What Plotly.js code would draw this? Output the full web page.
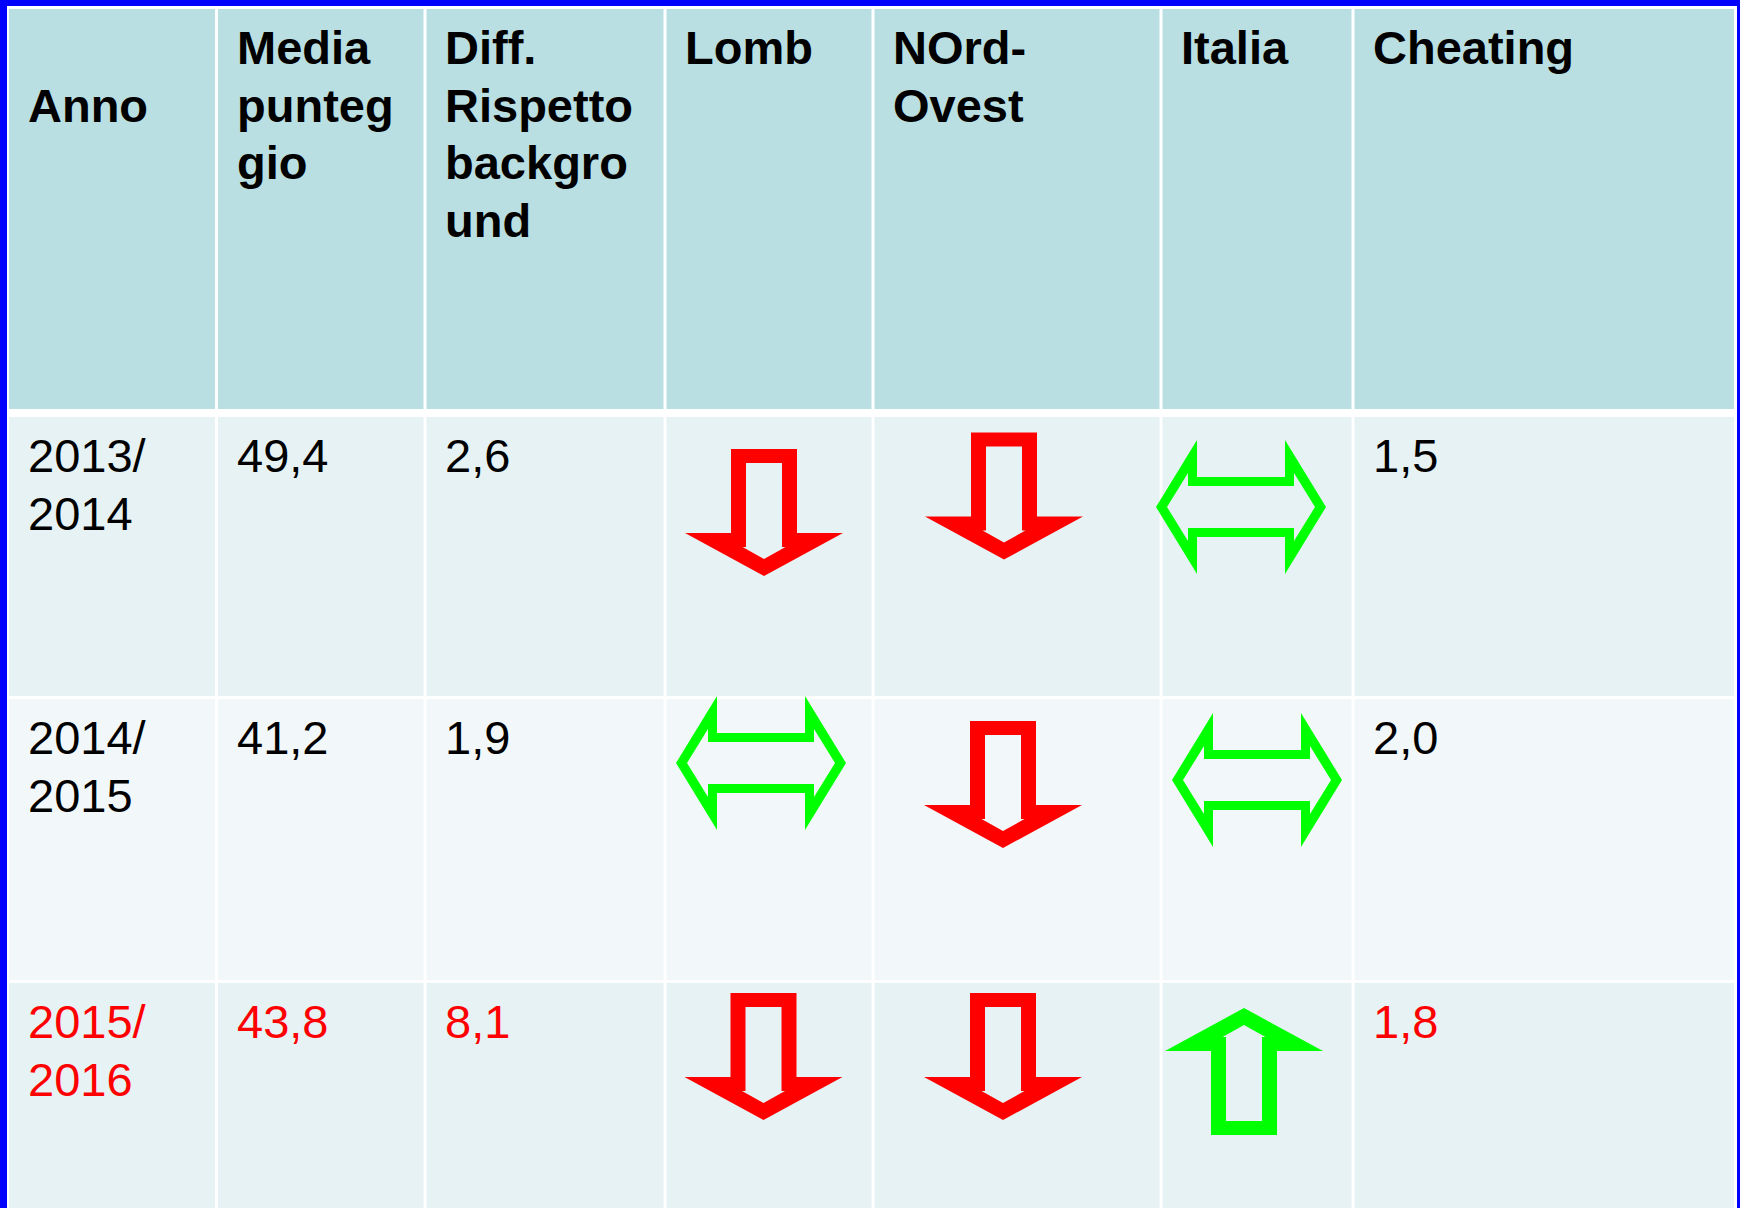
<!DOCTYPE html>
<html>
<head>
<meta charset="utf-8">
<script src="https://cdn.plot.ly/plotly-3.0.1.min.js"></script>
<style>html,body{margin:0;padding:0;background:#fff;}#chart{width:1740px;height:1208px;}</style>
</head>
<body>
<div id="chart"></div>
<script>
// ---------------- DATA ----------------
const headers = [
  ["", "Anno"],
  ["Media", "punteg", "gio"],
  ["Diff.", "Rispetto", "backgro", "und"],
  ["Lomb"],
  ["NOrd-", "Ovest"],
  ["Italia"],
  ["Cheating"]
];
const anni = ["2013/2014", "2014/2015", "2015/2016"];
const mediaPunteggio = [49.4, 41.2, 43.8];
const diffBackground = [2.6, 1.9, 8.1];
const trendLomb = ["down", "same", "down"];
const trendNordOvest = ["down", "down", "down"];
const trendItalia = ["same", "same", "up"];
const cheating = [1.5, 2.0, 1.8];

// ---------------- LAYOUT / STYLE ----------------
const W = 1740, H = 1208;
const FONT = '"Liberation Sans", Arial, sans-serif';
const FS = 47;
const colEdges = [9, 216.5, 425, 665, 873, 1161, 1353, 1734];
const headerBox = [9, 409];
const rowBoxes = [[417, 696], [699, 980], [983, 1212]];
const rowFill = ['#E6F2F4', '#F2F8FA', '#E6F2F4'];
const headerFill = '#BADFE3';
const rowTextColor = ['#000000', '#000000', '#FF0000'];
const arrowColor = {down: '#FF0000', up: '#00FF00', same: '#00FF00'};
// arrow nudges (dx from column centre, dy from row top) per row, for Lomb / NOrd-Ovest / Italia
const arrowNudge = [
  [[-5, 95.5], [-13, 79], [-16, 90]],
  [[-8, 64], [-14, 85.5], [0, 81]],
  [[-5.5, 73.5], [-14, 73.5], [-13, 88.5]]
];

function fmt(v) { return v.toFixed(1).replace('.', ','); }
function cellX(c) { return [c === 0 ? colEdges[0] : colEdges[c] + 1.5, c === colEdges.length - 2 ? colEdges[c + 1] : colEdges[c + 1] - 1.5]; }

const shapes = [];
const annotations = [];

// background: blue frame + white
shapes.push({type: 'rect', xref: 'x', yref: 'y', x0: 7, x1: 1737, y0: 6, y1: H + 10, fillcolor: '#FFFFFF', line: {width: 0}, layer: 'below'});
// header cells
for (let c = 0; c < colEdges.length - 1; c++) {
  const [a, b] = cellX(c);
  shapes.push({type: 'rect', xref: 'x', yref: 'y', x0: a, x1: b, y0: headerBox[0], y1: headerBox[1], fillcolor: headerFill, line: {width: 0}, layer: 'below'});
  rowBoxes.forEach((rb, r) => {
    shapes.push({type: 'rect', xref: 'x', yref: 'y', x0: a, x1: b, y0: rb[0], y1: rb[1], fillcolor: rowFill[r], line: {width: 0}, layer: 'below'});
  });
}

function addText(txt, x, baseline, color, bold) {
  annotations.push({
    xref: 'x', yref: 'y', x: x, y: baseline - 43, xanchor: 'left', yanchor: 'top',
    text: bold ? '<b>' + txt + '</b>' : txt, showarrow: false, borderpad: 0, align: 'left',
    font: {family: FONT, size: FS, color: color}
  });
}

// header text
headers.forEach((lines, c) => {
  const x0 = cellX(c)[0] + 17.5;
  lines.forEach((ln, i) => { if (ln) addText(ln, x0, 63 + i * 57.5, '#000000', true); });
});

// body text
const textCols = [
  anni.map(a => { const p = a.split('/'); return [p[0] + '/', p[1]]; }),
  mediaPunteggio.map(v => [fmt(v)]),
  diffBackground.map(v => [fmt(v)]),
  null, null, null,
  cheating.map(v => [fmt(v)])
];
textCols.forEach((col, c) => {
  if (!col) return;
  const x0 = cellX(c)[0] + 17.5;
  col.forEach((lines, r) => {
    lines.forEach((ln, i) => addText(ln, x0, rowBoxes[r][0] + 54 + i * 58, rowTextColor[r], false));
  });
});

// arrows
const tmpl = {
  down: {
    outer: [[-33, -63.5], [33, -63.5], [33, 20.5], [79, 20.5], [0, 63.5], [-79, 20.5], [-33, 20.5]],
    inner: [[-18, -49.5], [18, -49.5], [18, 34.5], [21.5, 34.5], [0, 46.5], [-21.5, 34.5], [-18, 34.5]]
  },
  same: {
    outer: [[-85, 0], [-44, -67], [-44, -30], [44, -30], [44, -67], [85, 0], [44, 67], [44, 30], [-44, 30], [-44, 67]],
    inner: [[-74, 0], [-53, -34], [-53, -21], [53, -21], [53, -34], [74, 0], [53, 34], [53, 21], [-53, 21], [-53, 34]]
  }
};
tmpl.up = {
  outer: tmpl.down.outer.map(p => [p[0], -p[1]]),
  inner: tmpl.down.inner.map(p => [p[0], -p[1]])
};
function poly(pts, cx, cy) {
  return 'M' + pts.map(p => (cx + p[0]).toFixed(1) + ',' + (cy + p[1]).toFixed(1)).join(' L') + ' Z';
}
const trendCols = [[3, trendLomb], [4, trendNordOvest], [5, trendItalia]];
trendCols.forEach(([c, arr], k) => {
  const [a, b] = cellX(c);
  const cxBase = (a + b) / 2;
  arr.forEach((dir, r) => {
    const cx = cxBase + arrowNudge[r][k][0];
    const cy = rowBoxes[r][0] + arrowNudge[r][k][1];
    const t = tmpl[dir];
    shapes.push({
      type: 'path', xref: 'x', yref: 'y', layer: 'above',
      path: poly(t.outer, cx, cy) + ' ' + poly(t.inner, cx, cy),
      fillrule: 'evenodd', fillcolor: arrowColor[dir], line: {width: 0}
    });
  });
});

const layout = {
  width: W, height: H,
  margin: {l: 0, r: 0, t: 0, b: 0, pad: 0},
  paper_bgcolor: '#0000FF', plot_bgcolor: '#0000FF',
  xaxis: {range: [0, W], visible: false, fixedrange: true},
  yaxis: {range: [H, 0], visible: false, fixedrange: true},
  showlegend: false,
  shapes: shapes,
  annotations: annotations
};
Plotly.newPlot('chart', [{type: 'scatter', x: [], y: [], hoverinfo: 'skip'}], layout, {displayModeBar: false, staticPlot: true});
</script>
</body>
</html>
